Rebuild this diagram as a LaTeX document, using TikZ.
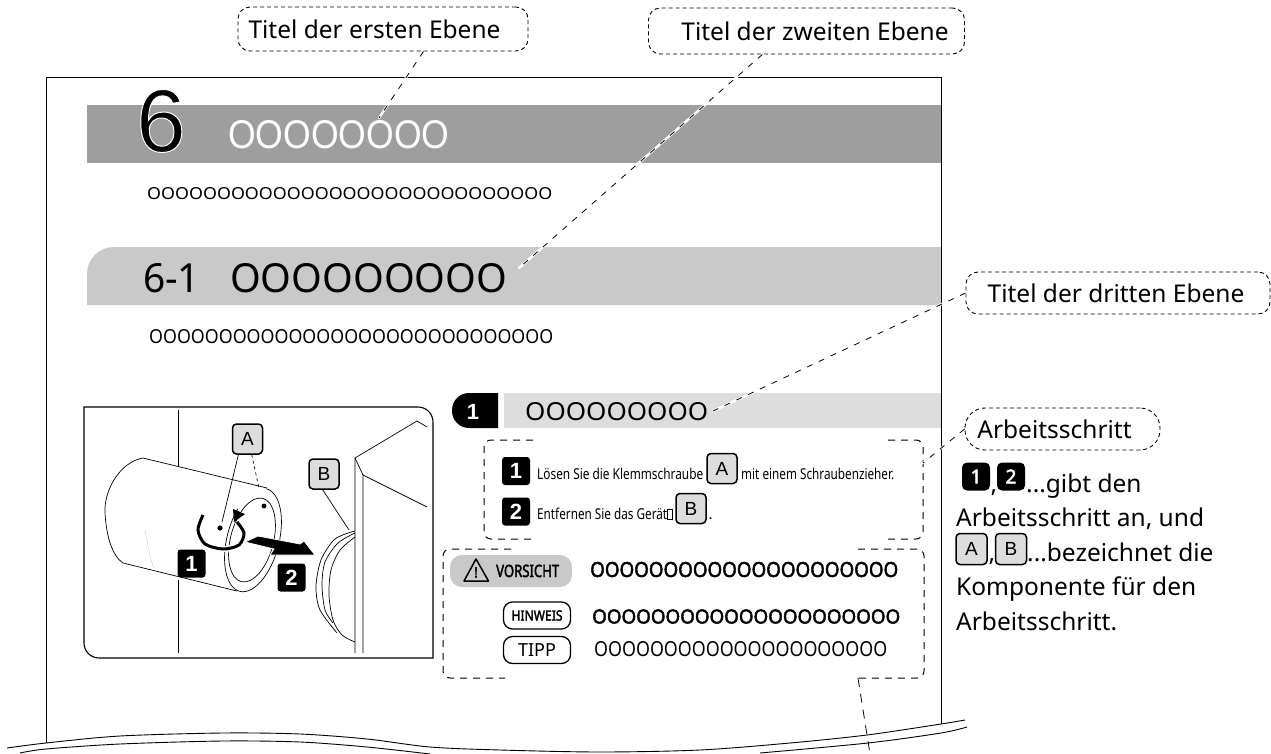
\documentclass[tikz,border=0pt]{standalone}
\usepackage{fontspec}
\usepackage{graphicx}
\setmainfont{Noto Sans}
\newfontfamily\fett[FakeBold=2.5]{Noto Sans}
\newfontfamily\arial{Liberation Sans}
\newfontfamily\sechs[FakeBold=1.1]{Liberation Sans}
\usetikzlibrary{arrows.meta}

\definecolor{balkena}{HTML}{9D9E9D}
\definecolor{balkenb}{HTML}{C8C9C8}
\definecolor{balkenc}{HTML}{DCDDDC}

\newcommand{\groesse}[1]{\fontsize{#1}{#1}\selectfont}
\newcommand{\ohs}[3]{\resizebox{#2pt}{#3pt}{\foreach \i in {1,...,#1}{O}}}

\tikzset{
    hinweisbox/.style={draw, dash pattern=on 4pt off 3pt, line width=.9pt, rounded corners=12pt, inner sep=0pt, font=\groesse{24.5}},
    leiter/.style={dash pattern=on 6pt off 7pt, line width=.8pt, preaction={draw=white, line width=2.4pt, line cap=round}},
    rahmen/.style={dash pattern=on 7pt off 6pt, line width=1pt, rounded corners=7pt},
    zeile/.style={inner sep=0pt, anchor=base west},
    oreihe/.style={inner sep=0pt, anchor=west},
    knopf/.style={draw, fill=balkenc, line width=1.5pt, rounded corners=4pt, minimum size=30pt, inner sep=0pt, font=\arial\groesse{19}},
    schritt/.style={fill=black, text=white, rounded corners=3pt, minimum size=28pt, inner sep=0pt, font=\arial\bfseries\groesse{22}},
    marke/.style={draw, line width=1.3pt, rounded corners=9pt, minimum width=67pt, minimum height=27pt, inner sep=0pt},
    figur/.style={line width=.7pt}
}

\begin{document}
\begin{tikzpicture}[x=1pt,y=-1pt]
    \useasboundingbox (0,0) rectangle (1271,754);
    \clip (0,0) rectangle (1271,754);

    % Balken
    \fill[balkena] (87,105) rectangle (941,163);
    \fill[balkenb] (941,247) [rounded corners=27pt] -- (87,247) [sharp corners] -- (87,305) -- (941,305) -- cycle;
    \fill[balkenc] (504,393) rectangle (941,428);
    \fill (498,393) [rounded corners=17pt] -- (452,393) -- (452,428) [sharp corners] -- (498,428) -- cycle;

    % Seite
    \draw[line width=1pt] (46,743) -- (46,78) -- (941,78) -- (941,724);
    \draw[line width=.9pt] plot[smooth] coordinates {(7,748) (46,743) (120,736) (223,733) (300,734) (367,739) (430,747) (500,750) (600,752) (700,750) (790,743) (867,735) (941,724) (965,720)};
    \draw[line width=.9pt] plot[smooth] coordinates {(20,753) (46,749) (120,744) (223,741) (300,742) (367,747) (430,754)};
    \draw[line width=.9pt] plot[smooth] coordinates {(760,753) (868,743) (941,733) (967,727)};

    % Titel
    \node[inner sep=0pt, font=\sechs\groesse{89}] (kapitel) at (161,121) {\special{pdf:code 1 1 1 RG}6\special{pdf:code 0 0 0 RG}};
    \node[oreihe, text=white, font=\arial] (kapiteltext) at (228,135) {\ohs{8}{221}{28}};
    \node[oreihe] (kapitelzeile) at (147,194) {\ohs{29}{405}{12}};

    \node[zeile] (abschnitt) at (143,292) {\resizebox{57pt}{29pt}{6-1}};
    \node[oreihe] (abschnitttext) at (230,278) {\ohs{9}{277}{29}};
    \node[oreihe] (abschnittzeile) at (149,337) {\ohs{29}{404}{14}};

    \node[text=white, inner sep=0pt, font=\arial\bfseries\groesse{22}] (nummer) at (473,412) {1};
    \node[oreihe] (schritttext) at (525,412) {\ohs{9}{183}{18}};

    % Abbildung
    \draw[line width=1.1pt] (84,407) [rounded corners=15pt] -- (433,407) [sharp corners] -- (433,658) [rounded corners=15pt] -- (84,658) [sharp corners] -- cycle;
    \draw[figur] (178,410) -- (178,467) (178,580) -- (178,653);
    \draw[figur] (267,488) -- (143,458) .. controls (120,462) and (104,490) .. (105,512) .. controls (106,535) and (112,556) .. (123,563) -- (237,591);
    \draw[figur, rotate around={-14.5:(253,540)}] plot[domain=270:570, samples=60] ({253+26*cos(\x)},{540+53*sin(\x)});
    \draw[figur, rotate around={-14.5:(252,540)}] (252,540) ellipse (21.5 and 43);
    \draw[black!25, line width=.3pt] (145,530) .. controls (148,545) and (150,560) .. (154,568);
    \fill (220,528) circle (2.6pt);
    \fill (264,506) circle (2.4pt);

    % Kamera
    \draw[figur] (427,427) -- (417,421) -- (355,458) -- (355,653);
    \draw[figur] (355,458) -- (363,475) -- (363,653);
    \draw[figur] (363,475) -- (427,507);
    \draw[figur] plot[smooth] coordinates {(355,531) (335,539) (321,560) (316,587) (320,610) (337,633)};
    \draw[figur] plot[smooth] coordinates {(355,533) (338,543) (325,562) (322,585) (325,610) (333,623)};
    \draw[figur] plot[smooth] coordinates {(355,537) (340,550) (331,570) (329,595) (333,620) (342,635) (355,642)};

    \node[knopf] (teila) at (247.5,439) {A};
    \node[knopf] (teilb) at (324,474) {B};
    \coordinate (schraube) at (222,522);
    \coordinate (kante) at (259,488);
    \coordinate (objektiv) at (349,530);
    \draw[figur] (teila.-120) -- (schraube);
    \draw[figur, dashed] (teila.-75) -- (kante);
    \draw[figur] (teilb.-95) -- (objektiv);

    % Pfeile
    \draw[white, line width=6pt] plot[smooth] coordinates {(203,515) (198,530) (205,544) (223,549) (239,545) (244,533) (237,522)};
    \draw[line width=3pt] plot[smooth] coordinates {(203,515) (198,530) (205,544) (223,549) (239,545) (244,533) (237,522)};
    \fill (233,509) -- (245,514) -- (234,522) -- cycle;
    \fill[draw=white, line width=.8pt] (245,542) -- (258,536) -- (300,544) -- (304,541) -- (315,555) -- (270,555) -- (274,549) -- cycle;
    \node[schritt] (biga) at (191.5,563.5) {1};
    \node[schritt] (bigb) at (291.5,577.5) {2};

    % Arbeitsschritte
    \draw[rahmen] (533,440) -- (484,440) -- (484,539) -- (533,539);
    \draw[rahmen] (888,440) -- (923,440) -- (923,539) -- (888,539);
    \node[schritt] (zeilea) at (516,471) {1};
    \node[schritt] (zeileb) at (516,511.5) {2};
    \node[zeile, font=\groesse{15}] (texta) at (537,479) {\resizebox{166pt}{\height}{Lösen Sie die Klemmschraube}};
    \node[knopf] (knopfa) at (722,468.5) {A};
    \node[zeile, font=\groesse{15}] (textb) at (741,479) {\resizebox{153pt}{\height}{mit einem Schraubenzieher.}};
    \node[zeile, font=\groesse{15}] (textc) at (537,519) {\resizebox{130pt}{\height}{Entfernen Sie das Gerät}};
    \draw[line width=.4pt] (667.5,509) rectangle (672.5,519);
    \node[knopf] (knopfb) at (691,508.5) {B};
    \node[zeile, font=\groesse{15}] (punkt) at (708.5,519) {.};

    % Warnhinweise
    \draw[rahmen] (511,549) -- (443,549) -- (443,678) -- (505,678);
    \draw[rahmen] (858,549) -- (924,549) -- (924,678) -- (858,678);
    \node[fill=balkenb, rounded corners=12pt, minimum width=122pt, minimum height=32pt, inner sep=0pt] (vorsicht) at (511,571) {};
    \draw[line width=1.5pt, line join=round] (476,559) -- (488.5,581) -- (464,581) -- cycle;
    \node[inner sep=0pt, font=\fett\groesse{14}] (warnung) at (476,572.5) {!};
    \node[zeile, font=\fett\groesse{17}] (vorsichttext) at (496,577) {\resizebox{63pt}{\height}{VORSICHT}};
    \node[oreihe, font=\fett] (vorsichtreihe) at (590,569.5) {\ohs{21}{308}{15}};
    \node[marke, font=\fett\groesse{14}] (hinweis) at (537,615.5) {\resizebox{51pt}{\height}{HINWEIS}};
    \node[oreihe, font=\fett] (hinweisreihe) at (592,616.5) {\ohs{21}{308}{14}};
    \node[marke, font=\groesse{18}] (tipp) at (537,650) {TIPP};
    \node[oreihe] (tippreihe) at (594,649.5) {\ohs{21}{293}{15}};

    % Beschriftungen
    \node[hinweisbox, minimum width=290pt, minimum height=44pt] (titela) at (383,29) {Titel der ersten Ebene\hspace*{17pt}};
    \node[hinweisbox, minimum width=316pt, minimum height=46pt] (titelb) at (806.5,31) {\hspace*{17pt}Titel der zweiten Ebene};
    \node[hinweisbox, minimum width=304pt, minimum height=42pt] (titelc) at (1118,293) {Titel der dritten Ebene\hspace*{4pt}};
    \node[hinweisbox, rounded corners=20pt, minimum width=195pt, minimum height=42pt] (arbeit) at (1062.5,429) {Arbeitsschritt\hspace*{16pt}};

    \coordinate (ziela) at (379,118);
    \coordinate (zielb) at (519,268);
    \coordinate (zielc) at (713,411);
    \coordinate (zield) at (923,463);
    \coordinate (ziele) at (858,678);
    \coordinate (zielf) at (870,754);
    \draw[leiter] (titela.-29) -- (ziela);
    \draw[leiter] (titelb.208) -- (zielb);
    \draw[leiter] (titelc.west) -- (zielc);
    \draw[leiter] (arbeit.west) -- (zield);
    \draw[dash pattern=on 9pt off 7pt, line width=.8pt] (ziele) -- (zielf);

    % Erklaerung
    \node[schritt, rounded corners=5pt, font=\fett\groesse{19}] (erkla) at (976,476.5) {1};
    \node[zeile, font=\groesse{24.5}] (komma) at (990.5,492) {,};
    \node[schritt, rounded corners=5pt, font=\fett\groesse{19}] (erklb) at (1011,476.5) {2};
    \node[zeile, font=\groesse{24.5}] (erklc) at (1026,492) {...gibt den};
    \node[zeile, font=\groesse{24.5}] (erkld) at (956,526) {Arbeitsschritt an, und};
    \node[knopf, minimum size=31pt] (erkle) at (971.5,549) {A};
    \node[zeile, font=\groesse{24.5}] (kommb) at (988.5,561) {,};
    \node[knopf, minimum size=31pt] (erklf) at (1011,549) {B};
    \node[zeile, font=\groesse{24.5}] (erklg) at (1027,561) {...bezeichnet die};
    \node[zeile, font=\groesse{24.5}] (erklh) at (956,595) {Komponente für den};
    \node[zeile, font=\groesse{24.5}] (erkli) at (956,630) {Arbeitsschritt.};
\end{tikzpicture}
\end{document}
